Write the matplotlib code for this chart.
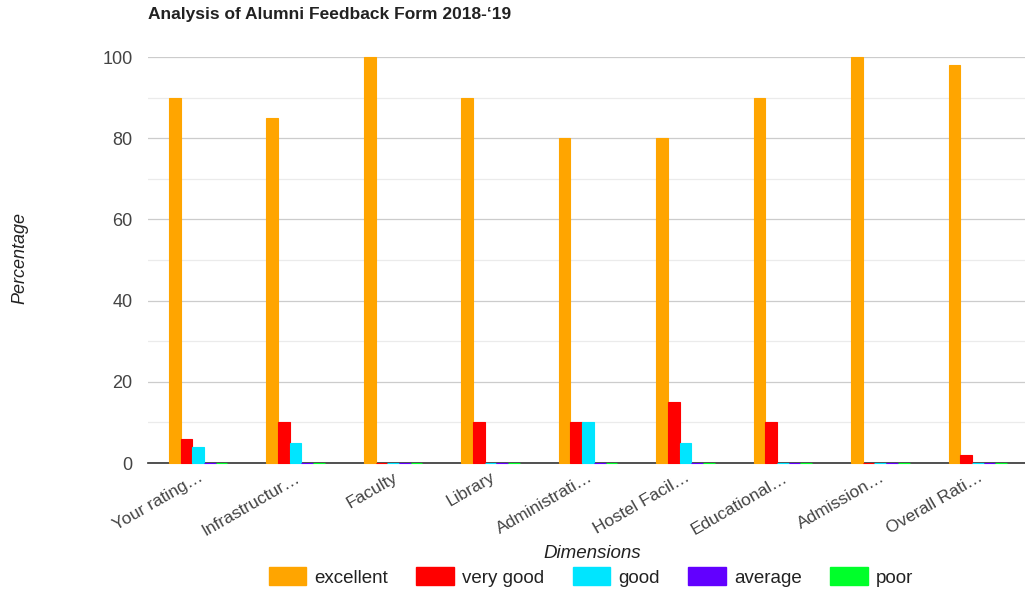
import matplotlib
matplotlib.use("Agg")
import matplotlib.pyplot as plt
import numpy as np
from matplotlib.patches import Patch

plt.rcParams['font.family'] = ['Liberation Sans', 'DejaVu Sans']

categories = ["Your rating…", "Infrastructur…", "Faculty", "Library", "Administrati…",
              "Hostel Facil…", "Educational…", "Admission…", "Overall Rati…"]
series_names = ["excellent", "very good", "good", "average", "poor"]
excellent = [90, 85, 100, 90, 80, 80, 90, 100, 98]
very_good = [6, 10, 0, 10, 10, 15, 10, 0, 2]
good = [4, 5, 0, 0, 10, 5, 0, 0, 0]
average = [0, 0, 0, 0, 0, 0, 0, 0, 0]
poor = [0, 0, 0, 0, 0, 0, 0, 0, 0]
series = [excellent, very_good, good, average, poor]
colors = ["#ffa500", "#ff0000", "#00e5ff", "#6200ff", "#00ff2a"]

fig = plt.figure(figsize=(10.25, 5.92), dpi=100)
ax = fig.add_axes([148/1025, 1-463/592, 1-148/1025, (463-57)/592])

x = np.arange(len(categories))
bw = 0.12
for i, (vals, c) in enumerate(zip(series, colors)):
    offs = (i - 2) * bw + 0.015
    ax.bar(x + offs, vals, width=bw, color=c, edgecolor=c, linewidth=0.8, zorder=3,
           clip_on=False)

ax.set_xlim(-0.5, len(categories) - 0.5)
ax.set_ylim(0, 100)
ax.set_yticks([0, 20, 40, 60, 80, 100])
ax.set_yticks([10, 30, 50, 70, 90], minor=True)
ax.grid(axis='y', which='major', color='#cccccc', linewidth=0.9, zorder=0)
ax.grid(axis='y', which='minor', color='#ebebeb', linewidth=0.9, zorder=0)
for s in ['top', 'right', 'left']:
    ax.spines[s].set_visible(False)
ax.spines['bottom'].set_color('#333333')
ax.spines['bottom'].set_linewidth(1.2)
ax.spines['bottom'].set_zorder(2)
ax.tick_params(axis='y', which='both', length=0, labelsize=13, labelcolor='#444444', pad=11)
ax.tick_params(axis='x', length=0, labelsize=12.5, labelcolor='#444444', pad=5)
ax.set_xticks(x + 0.01)
ax.set_xticklabels(categories, rotation=30, ha='right', rotation_mode='anchor')

fig.text(20/1025, 1-258/592, "Percentage", fontsize=13, style='italic', color='#222222',
         rotation=90, ha='center', va='center')
fig.text(592/1025, 1-553/592, "Dimensions", fontsize=13.5, style='italic', color='#222222',
         ha='center', va='center')

fig.text(148/1025, 1-14/592, "Analysis of Alumni Feedback Form 2018-‘19", fontsize=12.5,
         fontweight='bold', color='#222222', va='center', ha='left')

handles = [Patch(facecolor=c, edgecolor=c) for c in colors]
fig.legend(handles, series_names, loc='center', bbox_to_anchor=(591/1025, 1-577/592), ncol=5,
           frameon=False, fontsize=13.5, handlelength=2.0, handleheight=1.07,
           columnspacing=1.5, handletextpad=0.45, labelcolor='#222222')

fig.savefig("out.png", dpi=100)
